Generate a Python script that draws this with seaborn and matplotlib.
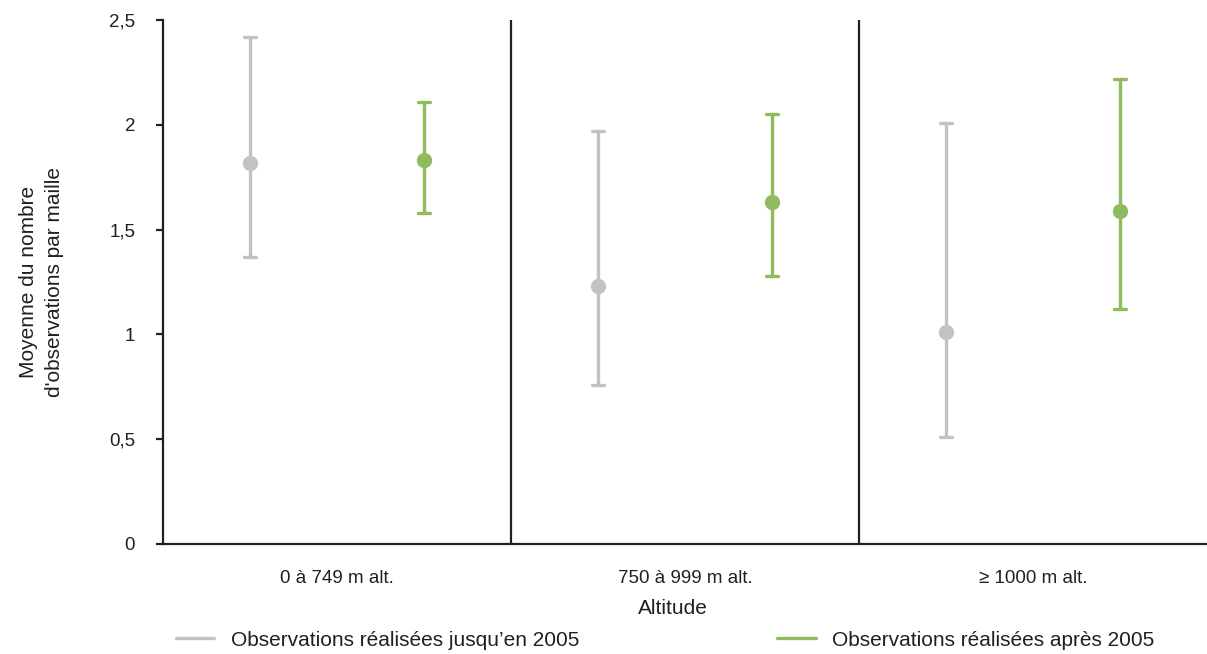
import pandas as pd
import matplotlib.pyplot as plt
import seaborn as sns
from matplotlib.lines import Line2D

# =====================================
# Data
# =====================================

altitudes = ["0 à 749 m alt.", "750 à 999 m alt.", "≥ 1000 m alt."]

periodes = ["Observations réalisées jusqu’en 2005", "Observations réalisées après 2005"]

avant_moy = [1.82, 1.23, 1.01]
avant_bas = [1.37, 0.76, 0.51]
avant_haut = [2.42, 1.97, 2.01]

apres_moy = [1.83, 1.63, 1.59]
apres_bas = [1.58, 1.28, 1.12]
apres_haut = [2.11, 2.05, 2.22]

y_ticks = [0, 0.5, 1, 1.5, 2, 2.5]
y_tick_labels = ["0", "0,5", "1", "1,5", "2", "2,5"]

couleurs = {periodes[0]: "#c2c2c6", periodes[1]: "#8fbb5e"}

# long table: low / mean / high per cell, median gives the mean,
# min/max give the interval
rows = []
for i, alt in enumerate(altitudes):
    for v in (avant_bas[i], avant_moy[i], avant_haut[i]):
        rows.append({"altitude": alt, "periode": periodes[0], "valeur": v})
    for v in (apres_bas[i], apres_moy[i], apres_haut[i]):
        rows.append({"altitude": alt, "periode": periodes[1], "valeur": v})
df = pd.DataFrame(rows)

# =====================================
# Style
# =====================================

sns.set_theme(style="white")
plt.rcParams["font.family"] = ["Liberation Sans", "DejaVu Sans"]
texte = "#231f20"

fig = plt.figure(figsize=(12.07, 6.54), dpi=100)
ax = fig.add_axes([163 / 1207, 1 - 544 / 654, 1 - 163 / 1207, (544 - 20) / 654])

sns.pointplot(
    data=df,
    x="altitude",
    y="valeur",
    hue="periode",
    order=altitudes,
    hue_order=periodes,
    estimator="median",
    errorbar=lambda v: (v.min(), v.max()),
    dodge=0.5,
    linestyle="none",
    palette=couleurs,
    markers="o",
    markersize=9,
    capsize=0.033,
    err_kws={"linewidth": 2.4},
    ax=ax,
)

ax.get_legend().remove()

# group separators
for x in (0.5, 1.5):
    ax.axvline(x, color=texte, linewidth=1.6, zorder=0)

ax.set_xlim(-0.5, 2.5)
ax.set_ylim(0, 2.5)
ax.set_yticks(y_ticks)
ax.set_yticklabels(y_tick_labels)

for s in ("top", "right"):
    ax.spines[s].set_visible(False)
for s in ("left", "bottom"):
    ax.spines[s].set_color(texte)
    ax.spines[s].set_linewidth(1.6)

ax.tick_params(axis="y", length=5, width=1.6, color=texte, pad=15,
               labelsize=13.5, labelcolor=texte, left=True)
ax.tick_params(axis="x", length=0, pad=19, labelsize=13.5, labelcolor=texte)

ax.set_xlabel("")
ax.set_ylabel("Moyenne du nombre\nd'observations par maille",
              fontsize=15, color=texte, linespacing=1.45)
ax.yaxis.set_label_coords(-0.095, 0.5)

fig.text(673 / 1207, 1 - 609 / 654, "Altitude", ha="center", va="center",
         fontsize=15, color=texte)

# =====================================
# Legend
# =====================================

handles = [
    Line2D([0], [0], color=couleurs[p], linewidth=2.4) for p in periodes
]
fig.legend(
    handles,
    periodes,
    loc="center left",
    bbox_to_anchor=(157 / 1207, 1 - 640 / 654),
    ncol=2,
    frameon=False,
    fontsize=15,
    handlelength=1.85,
    handletextpad=0.8,
    columnspacing=9.5,
    labelcolor=texte,
)

fig.savefig("out.png", dpi=100)
